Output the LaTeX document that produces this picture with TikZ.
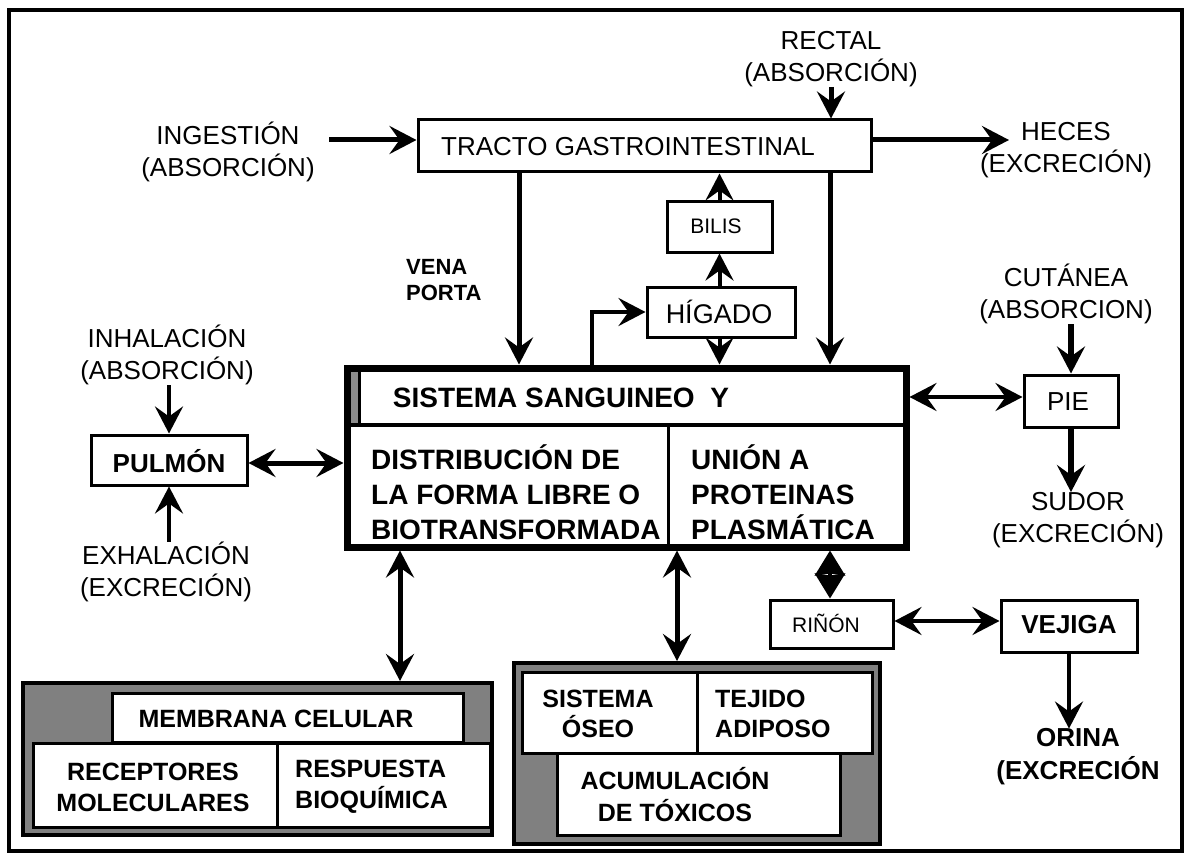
\documentclass[tikz,border=0pt]{standalone}
\usepackage{fontspec}
\setmainfont{Liberation Sans}
\usetikzlibrary{arrows.meta}
\newcommand{\fs}[2]{\fontsize{#1}{#2}\selectfont}
\tikzset{
  box/.style={draw, line width=3pt, fill=white, inner sep=0pt},
  grp/.style={draw, line width=4pt, fill=black!50, inner sep=0pt},
  lbl/.style={font=\fs{26}{32}, align=center, inner sep=0pt},
  blbl/.style={font=\fs{25}{31}\bfseries, align=center, inner sep=0pt},
  tip/.tip={Stealth[length=27pt,width=28pt,inset=10pt]},
  arr/.style={line width=5pt, -tip},
  darr/.style={line width=5pt, tip-tip},
}
\begin{document}
\begin{tikzpicture}[x=1pt,y=-1pt]
\useasboundingbox (0,0) rectangle (1187,856);
\draw[line width=4pt] (9,10) rectangle (1182,851);

% helper coordinates
\coordinate (yA) at (0,140);
\coordinate (xvp) at (519,0);
\coordinate (xr) at (830,0);
\coordinate (xel) at (592,0);
\coordinate (xm) at (400,0);
\coordinate (xt) at (677,0);
\coordinate (xrn) at (830,0);
\coordinate (yP) at (0,463);
\coordinate (yS) at (0,397);
\coordinate (yR) at (0,621);
\coordinate (hecesTip) at (1009,140);
\coordinate (ingStart) at (329,140);

% boxes
\node[box, minimum width=453pt, minimum height=52pt] (tracto) at (644.5,146) {};
\node[lbl] (tractoT) at (628,147) {TRACTO GASTROINTESTINAL};
\node[box, minimum width=105pt, minimum height=50pt] (bilis) at (719.5,227) {};
\node[lbl, font=\fs{21}{24}] (bilisT) at (716,226) {BILIS};
\node[box, minimum width=148pt, minimum height=50pt] (higado) at (721,312) {};
\node[lbl, font=\fs{27}{32}] (higadoT) at (719,312) {HÍGADO};

% sistema
\node[box, line width=7pt, minimum width=559pt, minimum height=179pt] (sis) at (626.5,457.5) {};
\fill[black!45] (351,372) rectangle (358,423);
\draw[line width=3pt] (359,371) -- (359,425);
\draw[line width=4pt] (347,425) -- (906,425);
\draw[line width=3pt] (668,425) -- (668,547);
\node[blbl, font=\fs{28}{35}\bfseries] (sisT) at (561,398) {SISTEMA SANGUINEO~ Y};
\node[blbl, font=\fs{28}{35}\bfseries, align=left, anchor=west] (distT) at (371,492) {DISTRIBUCIÓN DE\\LA FORMA LIBRE O\\BIOTRANSFORMADA};
\node[blbl, font=\fs{28}{35}\bfseries, align=left, anchor=west] (unionT) at (691,492) {UNIÓN A\\PROTEINAS\\PLASMÁTICA};

\node[box, minimum width=156pt, minimum height=50pt] (pulmon) at (169,460) {};
\node[blbl, font=\fs{26}{31}\bfseries] (pulmonT) at (169,461) {PULMÓN};
\node[box, minimum width=94pt, minimum height=52pt] (pie) at (1071,401) {};
\node[lbl] (pieT) at (1068,402) {PIE};
\node[box, minimum width=123pt, minimum height=48pt] (rinon) at (831.5,624) {};
\node[lbl, font=\fs{21}{24}] (rinonT) at (826,623) {RIÑÓN};
\node[box, minimum width=136pt, minimum height=52pt] (vejiga) at (1069,626) {};
\node[blbl, font=\fs{26}{31}\bfseries] (vejigaT) at (1069,625) {VEJIGA};

% membrane group
\node[grp, minimum width=469pt, minimum height=152pt] (memb) at (257.5,759) {};
\node[box, minimum width=351pt, minimum height=49pt] (membrana) at (287.5,717.5) {};
\node[blbl] (membranaT) at (276,719) {MEMBRANA CELULAR};
\node[box, minimum width=244pt, minimum height=84pt] (recept) at (155,785) {};
\node[blbl] (receptT) at (153,787) {RECEPTORES\\MOLECULARES};
\node[box, minimum width=213pt, minimum height=84pt] (resp) at (383.5,785) {};
\node[blbl, align=left, anchor=west] (respT) at (295,787) {RESPUESTA\\BIOQUÍMICA};

% toxicos group
\node[grp, minimum width=366pt, minimum height=181pt] (tox) at (697,753.5) {};
\node[box, minimum width=175pt, minimum height=81pt] (oseo) at (609.5,712.5) {};
\node[blbl, font=\fs{25}{30}\bfseries] (oseoT) at (598,714) {SISTEMA\\ÓSEO};
\node[box, minimum width=175pt, minimum height=81pt] (tejido) at (784.5,712.5) {};
\node[blbl, font=\fs{25}{30}\bfseries, align=left, anchor=west] (tejidoT) at (715,714) {TEJIDO\\ADIPOSO};
\node[box, minimum width=283pt, minimum height=82pt] (acum) at (698.5,794) {};
\node[blbl, font=\fs{25}{32}\bfseries] (acumT) at (675,795) {ACUMULACIÓN\\DE TÓXICOS};

% free labels
\node[lbl] (ingest) at (228,152) {INGESTIÓN\\(ABSORCIÓN)};
\node[lbl] (rectal) at (831,59) {RECTAL\\(ABSORCIÓN)};
\node[lbl] (heces) at (1066,150) {HECES\\(EXCRECIÓN)};
\node[blbl, font=\fs{22}{26}\bfseries, align=left, anchor=west] (vena) at (406,280) {VENA\\PORTA};
\node[lbl] (inhal) at (167,355) {INHALACIÓN\\(ABSORCIÓN)};
\node[lbl] (exhal) at (166,572) {EXHALACIÓN\\(EXCRECIÓN)};
\node[lbl] (cutanea) at (1066,294) {CUTÁNEA\\(ABSORCION)};
\node[lbl] (sudor) at (1078,520) {SUDOR\\(EXCRECIÓN)};
\node[blbl, font=\fs{26}{33}\bfseries] (orina) at (1078,757) {ORINA\\(EXCRECIÓN};

% connectors
\draw[arr] (ingStart) -- (tracto.west |- yA);
\draw[arr] (rectal.south) -- (tracto.north -| rectal.south);
\draw[arr] (tracto.east |- yA) -- (hecesTip);
\draw[arr] (xvp |- tracto.south) -- (xvp |- sis.north);
\draw[arr] (xr |- tracto.south) -- (xr |- sis.north);
\draw[arr, line width=4pt] (bilis.north) -- (bilis.north |- tracto.south);
\draw[arr, line width=4pt] (higado.north -| bilis.south) -- (bilis.south);
\draw[arr, line width=4pt] (higado.south -| bilis.south) -- (bilis.south |- sis.north);
\draw[arr, line width=4pt] (xel |- sis.north) |- (higado.west);
\draw[darr] (pulmon.east |- yP) -- (sis.west |- yP);
\draw[arr, line width=4pt] (inhal.south -| pulmon.north) -- (pulmon.north);
\draw[arr, line width=4pt] (exhal.north -| pulmon.south) -- (pulmon.south);
\draw[darr, line width=4pt] (sis.east |- yS) -- (pie.west |- yS);
\draw[arr, line width=6pt] (cutanea.south -| pie.north) -- (pie.north);
\draw[arr, line width=6pt] (pie.south) -- (sudor.north -| pie.south);
\draw[line width=4pt, {Stealth[length=25pt,width=30pt,inset=2pt]}-{Stealth[length=25pt,width=30pt,inset=2pt]}] (xrn |- sis.south) -- (xrn |- rinon.north);
\draw[darr, line width=4pt] (rinon.east |- yR) -- (vejiga.west |- yR);
\draw[arr, line width=4pt] (vejiga.south) -- (orina.north -| vejiga.south);
\draw[darr] (xm |- sis.south) -- (xm |- memb.north);
\draw[darr] (xt |- sis.south) -- (xt |- tox.north);
\end{tikzpicture}
\end{document}
